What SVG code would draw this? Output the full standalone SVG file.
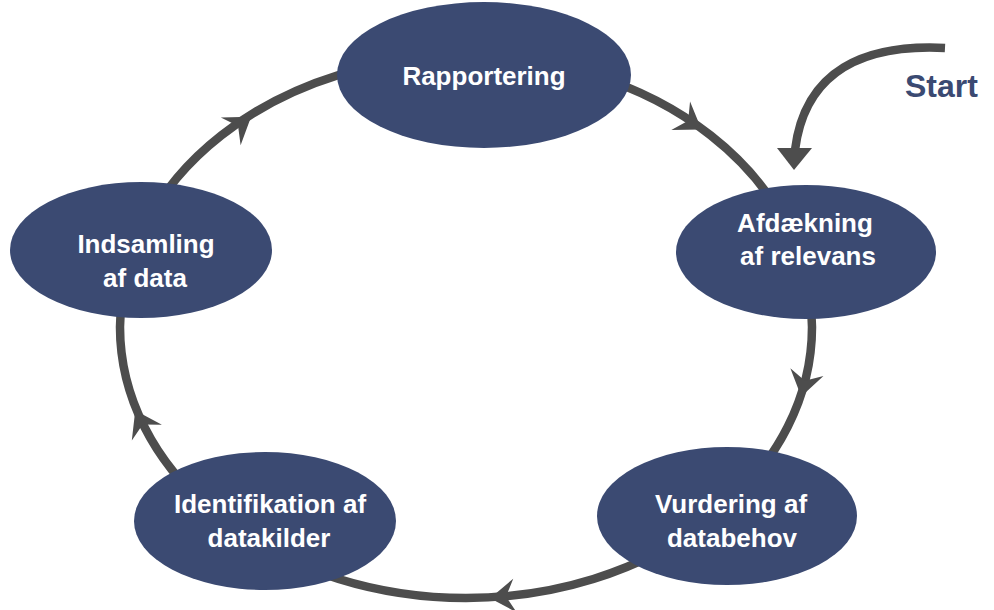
<svg xmlns="http://www.w3.org/2000/svg" width="994" height="610" viewBox="0 0 994 610">
<style>
.node{fill:#3b4a72}
.lbl{fill:#ffffff;font-family:"Liberation Sans",Arial,sans-serif;font-weight:bold;font-size:26px;text-anchor:middle}
.ring{fill:none;stroke:#4d4d4d;stroke-width:8.5}
.head{fill:#4d4d4d}
.start{fill:#3b4a72;font-family:"Liberation Sans",Arial,sans-serif;font-weight:bold;font-size:32px}
</style>
<defs>
<polygon id="ah" points="21,0 -4,-17 5,0 -4,17"/>
</defs>
<rect width="994" height="610" fill="#ffffff"/>
<g id="connectors">
<ellipse class="ring" cx="466" cy="327" rx="346" ry="271"/>
<use href="#ah" class="head" transform="translate(684,118) rotate(33.5)"/>
<use href="#ah" class="head" transform="translate(806,376) rotate(103.2)"/>
<use href="#ah" class="head" transform="translate(511,596) rotate(174.1)"/>
<use href="#ah" class="head" transform="translate(145,429) rotate(-117.7)"/>
<use href="#ah" class="head" transform="translate(234,129) rotate(-35.5)"/>
<path d="M945,48 C865,44 805,70 795,150" fill="none" stroke="#4d4d4d" stroke-width="8.5"/>
<polygon class="head" points="777,148 812,148 794,170"/>
</g>
<g id="rapportering">
<ellipse class="node" cx="484" cy="75" rx="147" ry="73"/>
<text class="lbl" x="484" y="85">Rapportering</text>
</g>
<g id="afdaekning">
<ellipse class="node" cx="806" cy="252" rx="130" ry="67"/>
<text class="lbl" x="805" y="232">Afdækning</text>
<text class="lbl" x="808" y="265">af relevans</text>
</g>
<g id="vurdering">
<ellipse class="node" cx="727" cy="516" rx="130" ry="69"/>
<text class="lbl" x="731" y="513">Vurdering af</text>
<text class="lbl" x="732" y="547">databehov</text>
</g>
<g id="identifikation">
<ellipse class="node" cx="265" cy="521" rx="131" ry="69"/>
<text class="lbl" x="270" y="513">Identifikation af</text>
<text class="lbl" x="269" y="547">datakilder</text>
</g>
<g id="indsamling">
<ellipse class="node" cx="141" cy="250" rx="131" ry="68"/>
<text class="lbl" x="146" y="253">Indsamling</text>
<text class="lbl" x="145" y="287">af data</text>
</g>
<g id="start">
<text class="start" x="905" y="97">Start</text>
</g>
</svg>
